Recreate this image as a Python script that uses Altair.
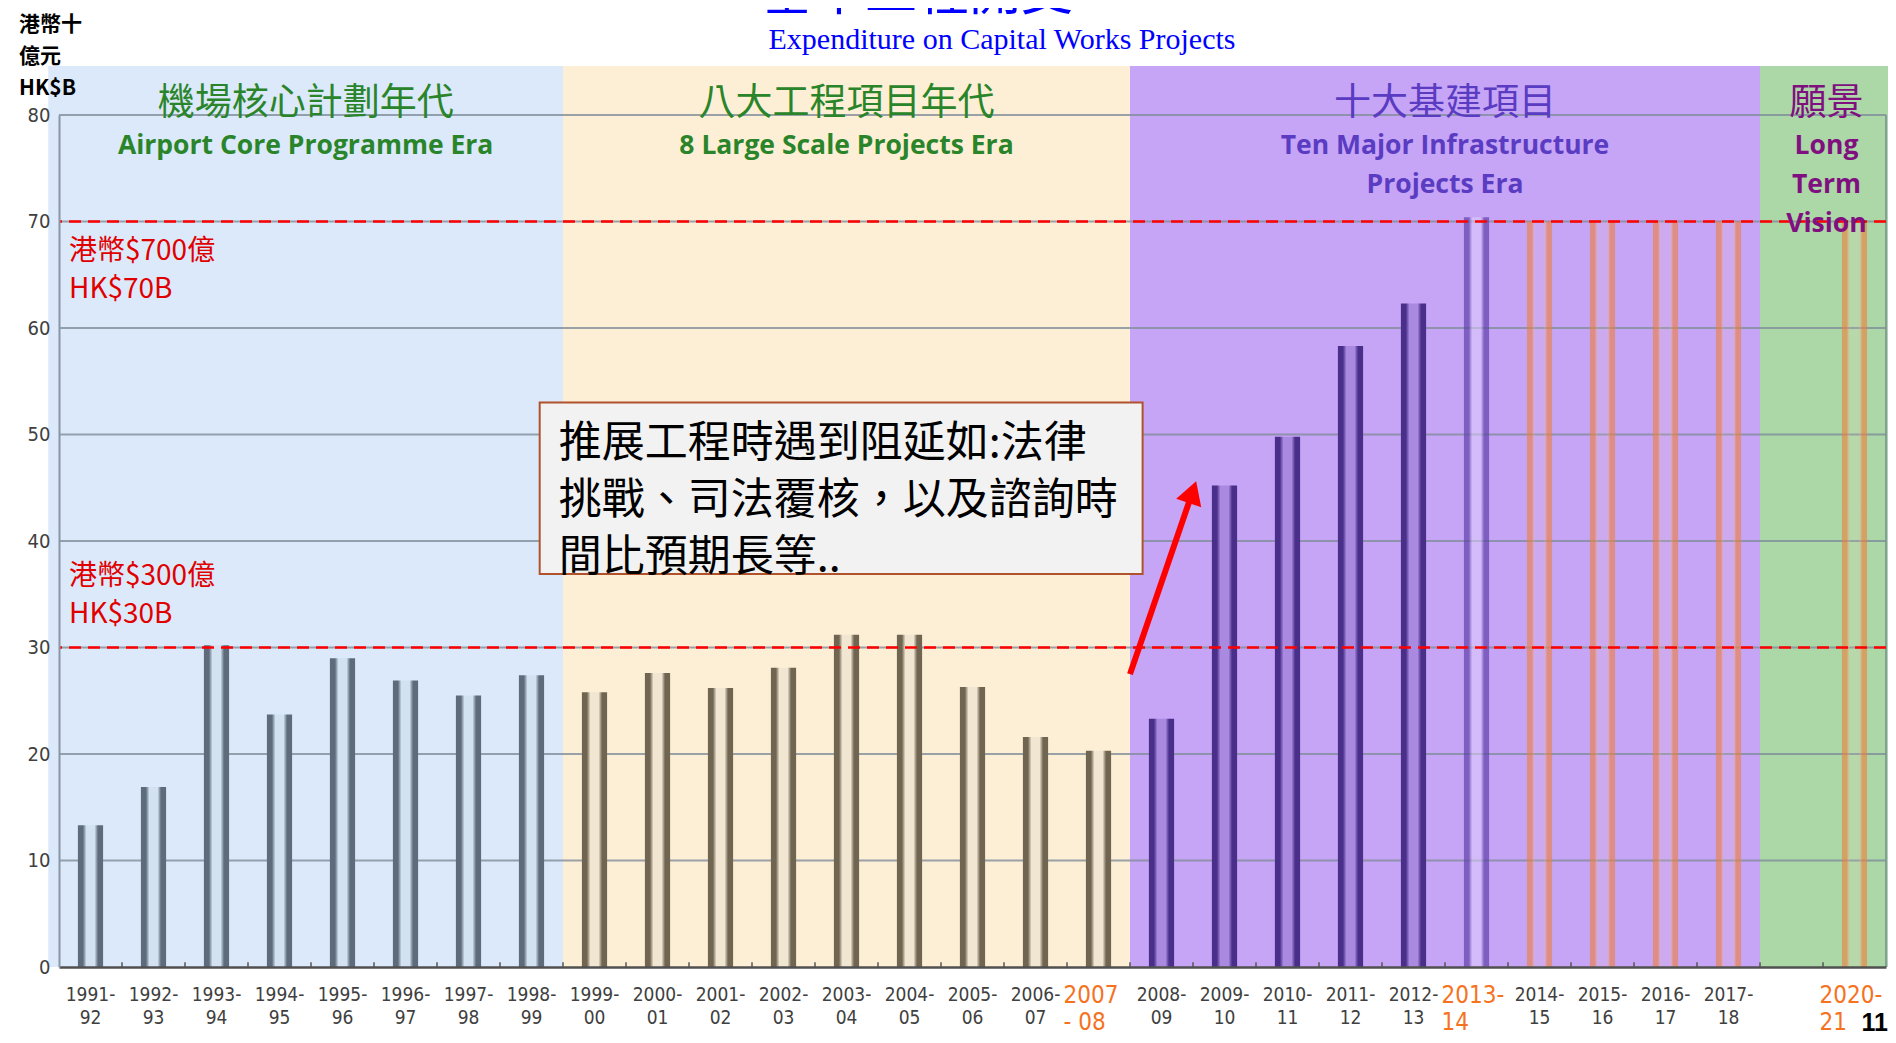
import json
import math
import altair as alt
import pandas as pd

# ---------------- data ----------------
categories = ["1991-92", "1992-93", "1993-94", "1994-95", "1995-96", "1996-97", "1997-98", "1998-99",
              "1999-00", "2000-01", "2001-02", "2002-03", "2003-04", "2004-05", "2005-06", "2006-07", "2007-08",
              "2008-09", "2009-10", "2010-11", "2011-12", "2012-13", "2013-14",
              "2014-15", "2015-16", "2016-17", "2017-18", "2020-21"]
values = [13.3, 16.9, 30.2, 23.7, 29.0, 26.9, 25.5, 27.4,
          25.8, 27.6, 26.2, 28.1, 31.2, 31.2, 26.3, 21.6, 20.3,
          23.3, 45.2, 49.8, 58.3, 62.3, 70.4,
          70.0, 70.0, 70.0, 70.0, 70.0]
groups = ["acp"] * 8 + ["lsp"] * 9 + ["tmi"] * 5 + ["tmi_next"] + ["plan"] * 5

axis_categories = categories[:27] + ["2018-20"] + categories[27:]
tick_line1 = ["1991-", "1992-", "1993-", "1994-", "1995-", "1996-", "1997-", "1998-",
              "1999-", "2000-", "2001-", "2002-", "2003-", "2004-", "2005-", "2006-", "2007",
              "2008-", "2009-", "2010-", "2011-", "2012-", "2013-",
              "2014-", "2015-", "2016-", "2017-", "", "2020-"]
tick_line2 = ["92", "93", "94", "95", "96", "97", "98", "99",
              "00", "01", "02", "03", "04", "05", "06", "07", "- 08",
              "09", "10", "11", "12", "13", "14",
              "15", "16", "17", "18", "", "21"]
orange_ticks = ["2007-08", "2013-14", "2020-21"]

y_ticks = [0, 10, 20, 30, 40, 50, 60, 70, 80]
grid_values = [10, 20, 30, 40, 50, 60, 70, 80]

era_key = ["acp", "lsp", "tmi", "vision"]
era_zh = ["機場核心計劃年代", "八大工程項目年代", "十大基建項目", "願景"]
era_en = ["Airport Core Programme Era", "8 Large Scale Projects Era",
          "Ten Major Infrastructure\nProjects Era", "Long\nTerm\nVision"]
era_start = [-0.17, 8, 17, 27]
era_end = [8, 17, 27, 29.11]
boundaries = [b for b in range(1, 29)]

threshold_values = [30, 70]
threshold_zh = ["港幣$300億", "港幣$700億"]
threshold_en = ["HK$30B", "HK$70B"]

note_text = "推展工程時遇到阻延如:法律\n挑戰、司法覆核，以及諮詢時\n間比預期長等.."
note_x = [7.63, 17.2]
note_y = [36.9, 53.0]
arrow_x = [17.0, 18.05]
arrow_y = [27.5, 45.6]

title_zh = "基本工程開支"
title_en = "Expenditure on Capital Works Projects"
y_title = "港幣十\n億元\nHK$B"
page_no = "11"

# ---------------- layout ----------------
W, H = 1827, 852
NSLOT = 29
px_x = W / NSLOT
px_y = H / 80.0

NARROW = "Liberation Sans Narrow, DejaVu Sans Condensed, Arial Narrow, sans-serif"
CJK = "Noto Sans CJK TC"

yscale = alt.Scale(domain=[0, 80], nice=False, zero=True)
qscale = alt.Scale(domain=[0, NSLOT], nice=False, zero=False)

bars_df = pd.DataFrame({"cat": categories, "v": values, "g": groups})
eras_df = pd.DataFrame({"key": era_key, "zh": era_zh, "en": era_en, "s": era_start, "e": era_end})
ticks_df = pd.DataFrame({"cat": axis_categories, "l1": tick_line1, "l2": tick_line2})
one = pd.DataFrame({"k": [0]})

# ---------------- background group ----------------
band_colors = ["#dbe9fb", "#fdefd5", "#c6a4f6", "#acd8a8"]
bands = alt.Chart(eras_df).mark_rect().encode(
    x=alt.X("s:Q", scale=qscale, axis=None),
    x2="e:Q",
    y=alt.value(-49),
    y2=alt.value(H),
    fill=alt.Fill("key:N", scale=alt.Scale(domain=era_key, range=band_colors), legend=None),
)
grid = alt.Chart(pd.DataFrame({"g": grid_values})).mark_rule(color="#7f8d9b", strokeWidth=2, opacity=0.8).encode(
    y=alt.Y("g:Q", scale=yscale, title=None)
)
right_border = alt.Chart(one).mark_rule(color="#7f8d9b", strokeWidth=2, opacity=0.8).encode(
    x=alt.X(datum=NSLOT, scale=qscale, axis=None),
    y=alt.Y(datum=0, scale=yscale, title=None),
    y2=alt.Y2(datum=80),
)
bticks = alt.Chart(pd.DataFrame({"b": boundaries})).mark_rule(color="#555555", strokeWidth=1.5).encode(
    x=alt.X("b:Q", scale=qscale, axis=None),
    y=alt.Y(datum=0, scale=yscale, title=None),
    y2=alt.Y2(datum=0.45),
)
back = alt.layer(bands, grid, right_border, bticks)

# ---------------- bars group ----------------
labels2d = [["", ""] if c in orange_ticks else [a, b] for c, a, b in zip(axis_categories, tick_line1, tick_line2)]
label_expr = f"{json.dumps(labels2d, ensure_ascii=False)}[indexof({json.dumps(axis_categories)}, datum.value)]"

x_axis = alt.Axis(
    title=None, labelAngle=0, labelExpr=label_expr,
    labelFont=NARROW, labelFontSize=19, labelColor="#404040",
    labelLineHeight=23, labelPadding=18, labelBaseline="top",
    ticks=False, grid=False, domainColor="#505050", domainWidth=2.5, zindex=1,
)
x_band = alt.X("cat:N", sort=axis_categories,
               scale=alt.Scale(domain=axis_categories, paddingInner=0.6, paddingOuter=0.3),
               axis=x_axis)
y_axis = alt.Axis(title=None, values=y_ticks, labelFont=NARROW, labelFontSize=20, labelColor="#404040",
                  labelPadding=9, ticks=False, grid=False, domainColor="#8a96a3", domainWidth=2, zindex=1)


def gradient(edge, mid):
    return alt.LinearGradient(
        gradient="linear", x1=0, x2=1, y1=0, y2=0,
        stops=[
            alt.GradientStop(offset=0.0, color=edge),
            alt.GradientStop(offset=0.2, color=edge),
            alt.GradientStop(offset=0.34, color=mid),
            alt.GradientStop(offset=0.66, color=mid),
            alt.GradientStop(offset=0.8, color=edge),
            alt.GradientStop(offset=1.0, color=edge),
        ],
    )


bar_styles = {
    "acp": ("#5d6b7b", "#d3e2f1"),
    "lsp": ("#6f6550", "#f0e6d2"),
    "tmi": ("#4a2f8a", "#a98ae0"),
    "tmi_next": ("rgba(95,65,170,0.7)", "rgba(225,210,255,0.5)"),
    "plan": ("rgba(236,128,62,0.62)", "rgba(255,215,190,0.12)"),
}
bar_layers = []
for g, (edge, mid) in bar_styles.items():
    bar_layers.append(
        alt.Chart(bars_df).transform_filter(alt.datum.g == g).mark_bar(fill=gradient(edge, mid), strokeWidth=0).encode(
            x=x_band,
            y=alt.Y("v:Q", scale=yscale, axis=y_axis),
        )
    )

orange_labels = alt.Chart(ticks_df).transform_filter(
    alt.FieldOneOfPredicate(field="cat", oneOf=orange_ticks)
).transform_calculate(t="datum.l1 + '\\n' + datum.l2").mark_text(
    font=NARROW, fontSize=24, color="#f5721e", align="left", baseline="middle", lineBreak="\n", lineHeight=27,
    dx=-35,
).encode(x=x_band, y=alt.value(H + 29), text="t:N")

bars = alt.layer(*bar_layers, orange_labels)

# ---------------- front group ----------------
thr_df = pd.DataFrame({"v": threshold_values, "zh": threshold_zh, "en": threshold_en})
thr_lines = alt.Chart(thr_df).mark_rule(color="#ff0000", strokeWidth=2.5, strokeDash=[12, 7]).encode(
    y=alt.Y("v:Q", scale=yscale, title=None)
)
thr_text_base = alt.Chart(thr_df).transform_calculate(t="datum.zh + '\\n' + datum.en")
thr_hi = thr_text_base.transform_filter(alt.datum.v == 70).mark_text(
    align="left", baseline="top", lineBreak="\n", lineHeight=38, font=CJK, fontSize=28, color="#e00000", dy=16
).encode(x=alt.value(10), y=alt.Y("v:Q", scale=yscale, title=None), text="t:N")
thr_lo = thr_text_base.transform_filter(alt.datum.v == 30).mark_text(
    align="left", baseline="top", lineBreak="\n", lineHeight=38, font=CJK, fontSize=28, color="#e00000", dy=-85
).encode(x=alt.value(10), y=alt.Y("v:Q", scale=yscale, title=None), text="t:N")

era_base = alt.Chart(eras_df).transform_calculate(mid="(datum.s + datum.e) / 2")
era_zh_layer = era_base.mark_text(font=CJK, fontSize=37, baseline="middle", align="center").encode(
    x=alt.X("mid:Q", scale=qscale, axis=None),
    y=alt.value(-11),
    text="zh:N",
    color=alt.Color("key:N", scale=alt.Scale(domain=era_key, range=["#2a852a", "#2a852a", "#5a3cc2", "#80107f"]),
                    legend=None),
)
era_en_layer = era_base.mark_text(font="Open Sans", fontSize=26.5, fontWeight="bold", baseline="top", align="center",
                                  lineBreak="\n", lineHeight=39).encode(
    x=alt.X("mid:Q", scale=qscale, axis=None),
    y=alt.value(18),
    text="en:N",
    color=alt.Color("key:N", scale=alt.Scale(domain=era_key, range=["#1d6e1d", "#1d6e1d", "#4a28b4", "#7e0a7e"]),
                    legend=None),
)

note_df = pd.DataFrame({"x0": [note_x[0]], "x1": [note_x[1]], "y0": [note_y[0]], "y1": [note_y[1]], "t": [note_text]})
note_box = alt.Chart(note_df).mark_rect(fill="#f2f2f2", stroke="#b0532c", strokeWidth=2).encode(
    x=alt.X("x0:Q", scale=qscale, axis=None), x2="x1:Q",
    y=alt.Y("y0:Q", scale=yscale, title=None), y2="y1:Q",
)
note_txt = alt.Chart(note_df).mark_text(
    align="left", baseline="top", lineBreak="\n", lineHeight=57, font=CJK, fontSize=43, color="#000000", dx=19, dy=20
).encode(x=alt.X("x0:Q", scale=qscale, axis=None), y=alt.Y("y1:Q", scale=yscale, title=None), text="t:N")

# arrow geometry (pixels -> data)
dxp = (arrow_x[1] - arrow_x[0]) * px_x
dyp = (arrow_y[1] - arrow_y[0]) * px_y
L = math.hypot(dxp, dyp)
ux, uy = dxp / L, dyp / L
head_size = 700
head_half = math.sqrt(head_size) / 2 * math.sqrt(3) / 2
hx = arrow_x[1] - ux * head_half / px_x
hy = arrow_y[1] - uy * head_half / px_y
angle = math.degrees(math.atan2(dxp, dyp))
arrow_df = pd.DataFrame({"x0": [arrow_x[0]], "y0": [arrow_y[0]], "x1": [hx], "y1": [hy]})
arrow_line = alt.Chart(arrow_df).mark_rule(color="#ff0000", strokeWidth=6).encode(
    x=alt.X("x0:Q", scale=qscale, axis=None), x2="x1:Q",
    y=alt.Y("y0:Q", scale=yscale, title=None), y2="y1:Q",
)
arrow_head = alt.Chart(arrow_df).mark_point(shape="triangle-up", filled=True, size=head_size, angle=angle,
                                            color="#ff0000", opacity=1).encode(
    x=alt.X("x1:Q", scale=qscale, axis=None),
    y=alt.Y("y1:Q", scale=yscale, title=None),
)

title_zh_layer = alt.Chart(pd.DataFrame({"t": [title_zh]})).mark_text(
    font=CJK, fontSize=52, color="#0000ff", align="center", baseline="alphabetic").encode(
    text="t:N", x=alt.value(858), y=alt.value(-105))
title_en_layer = alt.Chart(pd.DataFrame({"t": [title_en]})).mark_text(
    font="Liberation Serif", fontSize=30, color="#0000ff", align="center", baseline="middle").encode(
    text="t:N", x=alt.value(943), y=alt.value(-75))
y_title_layer = alt.Chart(pd.DataFrame({"t": [y_title]})).mark_text(
    font=CJK, fontSize=21, fontWeight="bold", color="#000000", align="left", baseline="top",
    lineBreak="\n", lineHeight=32).encode(text="t:N", x=alt.value(-40), y=alt.value(-101))
page_layer = alt.Chart(pd.DataFrame({"t": [page_no]})).mark_text(
    font="Liberation Sans", fontSize=25, fontWeight="bold", color="#000000", align="right", baseline="middle").encode(
    text="t:N", x=alt.value(1829), y=alt.value(908))

front = alt.layer(thr_lines, thr_hi, thr_lo, era_zh_layer, era_en_layer, note_box, note_txt,
                  arrow_line, arrow_head, title_zh_layer, title_en_layer, y_title_layer, page_layer)

chart = alt.layer(back, bars, front).resolve_scale(x="independent").properties(
    width=W, height=H,
    autosize=alt.AutoSizeParams(type="none"),
    padding={"left": 51, "top": 107, "right": 2, "bottom": 68},
    background="white",
).configure_view(stroke=None)

chart.save("out.html", embed_options={"renderer": "svg", "actions": False})
